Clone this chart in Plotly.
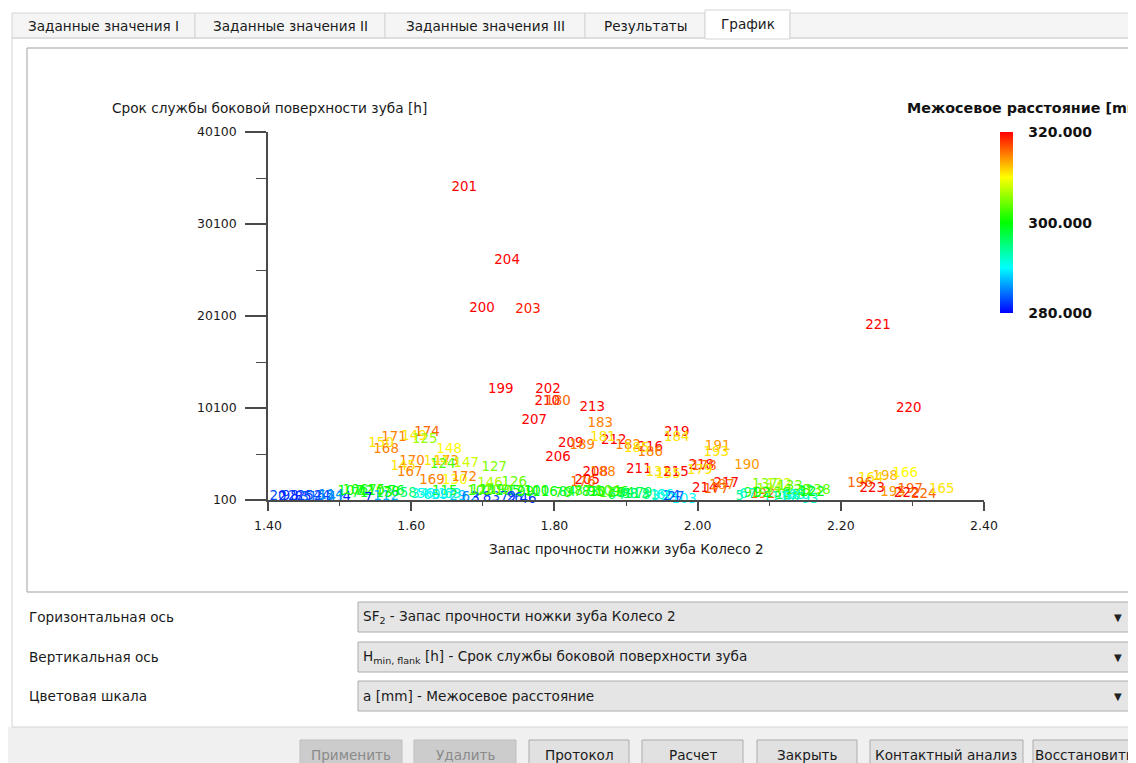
import plotly.graph_objects as go
from plotly.colors import sample_colorscale

# ---------------- data ----------------
labels = [
    "201", "204", "200", "203", "221", "220", "199", "202", "210", "180", "213", "207", "183",
    "171", "174", "149", "125", "168", "150", "219", "184", "191", "193", "209", "189", "212",
    "181", "182", "216", "186", "185", "206", "148", "173", "144", "124", "147", "127", "170",
    "145", "167", "169", "130", "172", "146", "126", "208", "188", "205", "176", "211", "131",
    "215", "155", "218", "178", "179", "190", "214", "217", "187", "177", "137", "132", "133",
    "192", "138", "198", "164", "166", "196", "223", "195", "197", "222", "224", "165",
    "20", "98", "85", "52", "55", "41", "107", "71", "110", "4", "13", "76", "112", "58", "34",
    "60", "17", "29", "62", "115", "102", "119", "8", "37", "105", "121", "26", "46", "42",
    "116", "70", "97", "83", "101", "117", "94", "64", "113", "81", "39", "24", "103", "5",
    "91", "136", "118", "65", "93", "12", "111",
    "2", "22", "31", "44", "114", "106", "72", "75", "78", "7", "56", "59", "63", "3", "120",
    "109", "9", "99", "100", "84", "87", "95", "104", "96", "88", "79", "66", "27", "67", "92",
    "134", "128", "68", "122",
]
sf2 = [
    1.674, 1.734, 1.699, 1.763, 2.252, 2.295, 1.725, 1.791, 1.790, 1.805, 1.853, 1.772, 1.864,
    1.576, 1.622, 1.604, 1.619, 1.565, 1.558, 1.971, 1.971, 2.028, 2.026, 1.823, 1.839, 1.883,
    1.868, 1.903, 1.934, 1.934, 1.915, 1.805, 1.653, 1.649, 1.635, 1.644, 1.677, 1.716, 1.601,
    1.589, 1.598, 1.629, 1.661, 1.674, 1.710, 1.744, 1.857, 1.868, 1.846, 1.840, 1.918, 1.945,
    1.970, 1.959, 2.005, 2.009, 2.003, 2.069, 2.010, 2.040, 2.034, 2.026, 2.094, 2.114, 2.129,
    2.091, 2.168, 2.262, 2.242, 2.290, 2.227, 2.244, 2.273, 2.297, 2.292, 2.316, 2.341,
    1.414, 1.431, 1.449, 1.464, 1.481, 1.495, 1.515, 1.528, 1.545, 1.510, 1.562, 1.579, 1.565,
    1.596, 1.612, 1.629, 1.649, 1.665, 1.682, 1.647, 1.696, 1.713, 1.706, 1.724, 1.735, 1.752,
    1.744, 1.763, 1.802, 1.787, 1.812, 1.827, 1.850, 1.866, 1.880, 1.900, 1.886, 1.915, 1.934,
    1.947, 1.964, 1.981, 2.059, 2.076, 2.112, 2.126, 2.139, 2.157, 2.151, 2.109,
    1.420, 1.440, 1.457, 1.475, 1.488, 1.522, 1.535, 1.552, 1.572, 1.540, 1.620, 1.640, 1.658,
    1.690, 1.700, 1.720, 1.740, 1.760, 1.775, 1.818, 1.840, 1.858, 1.875, 1.892, 1.905, 1.925,
    1.955, 1.970, 2.070, 2.090, 2.100, 2.140, 2.130, 2.160,
]
h_flank = [
    34000, 26100, 20900, 20750, 19100, 10000, 12050, 12050, 10750, 10750, 10100, 8700, 8350,
    6850, 7400, 6950, 6700, 5550, 6200, 7400, 6850, 5850, 5300, 6200, 6000, 6500,
    6850, 6000, 5750, 5300, 5650, 4650, 5550, 4250, 4250, 3900, 4100, 3600, 4250,
    3700, 3050, 2150, 2150, 2500, 1850, 1950, 3050, 3050, 2250, 1950, 3450, 3050,
    3050, 2900, 3800, 3700, 3250, 3800, 1300, 1850, 1650, 1200, 1750, 1750, 1500,
    650, 1100, 2600, 2400, 2950, 1850, 1300, 950, 1200, 750, 650, 1200,
    430, 430, 320, 430, 430, 320, 970, 750, 970, 320, 750, 970, 430, 750, 640,
    530, 640, 430, 320, 970, 970, 1080, 320, 320, 970, 970, 210, 100, 0,
    860, 750, 860, 860, 860, 750, 750, 530, 640, 530, 430, 430, 100, 430,
    750, 750, 530, 530, 100, 970, 320,
    350, 430, 320, 430, 540, 1080, 970, 1080, 860, 210, 640, 530, 640,
    210, 1080, 1080, 320, 860, 970, 860, 970, 860, 970, 860, 640, 750,
    530, 320, 640, 750, 1200, 1100, 320, 860,
]
center_dist = [
    320, 320, 320, 319, 320, 320, 320, 320, 320, 316, 320, 320, 315,
    315, 316, 311, 306, 315, 311, 320, 311, 314, 311, 320, 315, 320,
    311, 315, 320, 315, 311, 320, 310, 314, 311, 303, 308, 305, 315,
    311, 315, 315, 310, 315, 307, 304, 320, 315, 320, 316, 320, 311,
    320, 311, 320, 316, 311, 314, 320, 320, 315, 316, 305, 308, 304,
    316, 304, 313, 311, 310, 316, 320, 314, 316, 320, 316, 311,
    283, 282, 281, 283, 284, 285, 300, 298, 301, 281, 300, 299, 287, 296, 292,
    291, 290, 288, 285, 301, 302, 300, 282, 283, 299, 302, 283, 282, 281,
    300, 301, 302, 299, 301, 303, 300, 296, 298, 294, 291, 283, 290, 294,
    302, 301, 296, 292, 292, 296, 293,
    281, 282, 284, 283, 286, 301, 299, 302, 300, 281, 290, 289, 292,
    281, 303, 305, 282, 301, 300, 298, 302, 300, 303, 301, 295, 297,
    291, 284, 292, 300, 306, 303, 291, 300,
]

x_ticks = [1.40, 1.60, 1.80, 2.00, 2.20, 2.40]
y_ticks = [100, 10100, 20100, 30100, 40100]
c_ticks = [280, 300, 320]

tabs = ["Заданные значения I", "Заданные значения II", "Заданные значения III", "Результаты", "График"]
form_labels = ["Горизонтальная ось", "Вертикальная ось", "Цветовая шкала"]
form_values = [
    "SF<sub>2</sub> - Запас прочности ножки зуба Колесо 2",
    "H<sub>min, flank</sub> [h] - Срок службы боковой поверхности зуба",
    "a [mm] - Межосевое расстояние",
]
buttons = ["Применить", "Удалить", "Протокол", "Расчет", "Закрыть", "Контактный анализ", "Восстановить"]
buttons_enabled = [False, False, True, True, True, True, True]

# ---------------- styling ----------------
OFF = 8                      # page body margin of the html page
W, H = 1136 - OFF, 763 - OFF
FONT = "DejaVu Sans"
CSCALE = [[0.0, "#0000ff"], [0.25, "#00ffff"], [0.5, "#00ff00"], [0.75, "#ffff00"], [1.0, "#ff0000"]]
cmin, cmax = 280, 320
UI = 13.6


def X(px):
    return (px - OFF) / W


def Y(py):
    return 1 - (py - OFF) / H


text_colors = sample_colorscale(CSCALE, [(v - cmin) / (cmax - cmin) for v in center_dist])

fig = go.Figure()
fig.add_trace(go.Scatter(
    x=sf2, y=h_flank, mode="text", text=labels,
    textfont=dict(family=FONT, size=13.4, color=text_colors),
    textposition="middle center", cliponaxis=False, hoverinfo="skip", showlegend=False,
))
fig.add_trace(go.Scatter(
    x=[None], y=[None], mode="markers", showlegend=False, hoverinfo="skip",
    marker=dict(
        color=[300], cmin=cmin, cmax=cmax, colorscale=CSCALE, showscale=True,
        colorbar=dict(
            thickness=13, len=181, lenmode="pixels", x=X(1000), xanchor="left",
            y=Y(223), yanchor="middle", xpad=0, ypad=0, outlinewidth=0,
            tickvals=c_ticks, ticktext=[f"{v:.3f}" for v in c_ticks],
            ticks="outside", ticklen=13, tickcolor="rgba(0,0,0,0)",
            tickfont=dict(family=FONT, size=14, color="#111", weight="bold"),
        ),
    ),
))

shapes = []
annotations = []

# bottom grey strip
shapes.append(dict(type="rect", xref="paper", yref="paper", x0=0, x1=1, y0=0, y1=Y(727),
                   fillcolor="#f0f0f0", line=dict(width=0), layer="below"))
# tabs
tab_edges = [(12, 195), (195, 385), (385, 585), (585, 705), (705, 790)]
for i, ((a, b), t) in enumerate(zip(tab_edges, tabs)):
    sel = i == 4
    shapes.append(dict(type="rect", xref="paper", yref="paper", x0=X(a), x1=X(b),
                       y0=Y(38 if not sel else 39), y1=Y(13 if not sel else 10),
                       fillcolor="#ffffff" if sel else "#f5f5f5",
                       line=dict(color="#d4d4d4", width=1), layer="below"))
    annotations.append(dict(text=t, x=X((a + b) / 2), y=Y(26 if not sel else 24), xref="paper", yref="paper",
                            showarrow=False, xanchor="center", yanchor="middle",
                            font=dict(family=FONT, size=UI, color="#1a1a1a")))
shapes.append(dict(type="rect", xref="paper", yref="paper", x0=X(790), x1=X(1140), y0=Y(38), y1=Y(13),
                   fillcolor="#f5f5f5", line=dict(color="#d4d4d4", width=1), layer="below"))
# panel borders
for (x0, y0, x1, y1) in [(12, 38, 705, 38), (790, 38, 1136, 38), (12, 38, 12, 727), (12, 727, 1136, 727)]:
    shapes.append(dict(type="line", xref="paper", yref="paper", x0=X(x0), y0=Y(y0), x1=X(x1), y1=Y(y1),
                       line=dict(color="#d4d4d4", width=1), layer="below"))
# chart frame
shapes.append(dict(type="rect", xref="paper", yref="paper", x0=X(27), x1=X(1131), y0=Y(592), y1=Y(48),
                   fillcolor="#ffffff", line=dict(color="#a0a0a0", width=1), layer="below"))
# form rows
rows_y = [(602, 632), (642, 672), (681, 711)]
for (t0, t1), lab, val in zip(rows_y, form_labels, form_values):
    cy = (t0 + t1) / 2
    annotations.append(dict(text=lab, x=X(27), y=Y(cy), xref="paper", yref="paper", showarrow=False,
                            xanchor="left", yanchor="middle", font=dict(family=FONT, size=UI, color="#1a1a1a")))
    shapes.append(dict(type="rect", xref="paper", yref="paper", x0=X(358), x1=X(1131), y0=Y(t1), y1=Y(t0),
                       fillcolor="#e5e5e5", line=dict(color="#acacac", width=1), layer="below"))
    annotations.append(dict(text=val, x=X(361), y=Y(cy), xref="paper", yref="paper", showarrow=False,
                            xanchor="left", yanchor="middle", font=dict(family=FONT, size=UI, color="#1a1a1a")))
    annotations.append(dict(text="▼", x=X(1118), y=Y(cy), xref="paper", yref="paper", showarrow=False,
                            xanchor="center", yanchor="middle", font=dict(family=FONT, size=10, color="#222")))
# buttons
btn_edges = [(300, 402), (414, 516), (529, 629), (642, 743), (757, 857), (870, 1023), (1033, 1136)]
for (a, b), t, en in zip(btn_edges, buttons, buttons_enabled):
    shapes.append(dict(type="rect", xref="paper", yref="paper", x0=X(a), x1=X(b), y0=Y(775), y1=Y(740),
                       fillcolor="#e1e1e1" if en else "#cccccc",
                       line=dict(color="#adadad" if en else "#bfbfbf", width=1), layer="below"))
    annotations.append(dict(text=t, x=X((a + b) / 2), y=Y(755), xref="paper", yref="paper", showarrow=False,
                            xanchor="center", yanchor="middle",
                            font=dict(family=FONT, size=UI, color="#1a1a1a" if en else "#8a8a8a")))

# chart titles
annotations.append(dict(text="Срок службы боковой поверхности зуба [h]", x=X(110), y=Y(108), xref="paper",
                        yref="paper", showarrow=False, xanchor="left", yanchor="middle",
                        font=dict(family=FONT, size=13.7, color="#1a1a1a")))
annotations.append(dict(text="Запас прочности ножки зуба Колесо 2", x=X(626), y=Y(549), xref="paper",
                        yref="paper", showarrow=False, xanchor="center", yanchor="middle",
                        font=dict(family=FONT, size=13.5, color="#1a1a1a")))
annotations.append(dict(text="<b>Межосевое расстояние [mm]</b>", x=X(905), y=Y(108), xref="paper",
                        yref="paper", showarrow=False, xanchor="left", yanchor="middle",
                        font=dict(family=FONT, size=14.3, color="#111")))

AX = "#4a4a4a"
fig.update_layout(
    width=W, height=H, margin=dict(l=0, r=0, t=0, b=0, autoexpand=False),
    paper_bgcolor="#ffffff", plot_bgcolor="rgba(0,0,0,0)",
    shapes=shapes, annotations=annotations, showlegend=False,
    xaxis=dict(
        domain=[X(268), X(984)], range=[1.40, 2.40], tickvals=x_ticks,
        ticktext=[f"{v:.2f}" for v in x_ticks], showline=True, linecolor=AX, linewidth=1.5,
        ticks="outside", ticklen=9, tickwidth=1.5, tickcolor=AX, showgrid=False, zeroline=False,
        tickfont=dict(family=FONT, size=12.5, color="#1a1a1a"), ticklabelstandoff=4,
        minor=dict(tickvals=[1.5, 1.7, 1.9, 2.1, 2.3], ticks="outside", ticklen=4, tickcolor=AX, tickwidth=1),
    ),
    yaxis=dict(
        domain=[Y(500), Y(132)], range=[100, 40100], tickvals=y_ticks,
        ticktext=[str(v) for v in y_ticks], showline=True, linecolor=AX, linewidth=1.5,
        ticks="outside", ticklen=21, tickwidth=1.5, tickcolor=AX, showgrid=False, zeroline=False,
        tickfont=dict(family=FONT, size=12.5, color="#1a1a1a"), ticklabelstandoff=6,
        minor=dict(tickvals=[5100, 15100, 25100, 35100], ticks="outside", ticklen=10, tickcolor=AX, tickwidth=1),
    ),
)

fig.write_html("out.html")
